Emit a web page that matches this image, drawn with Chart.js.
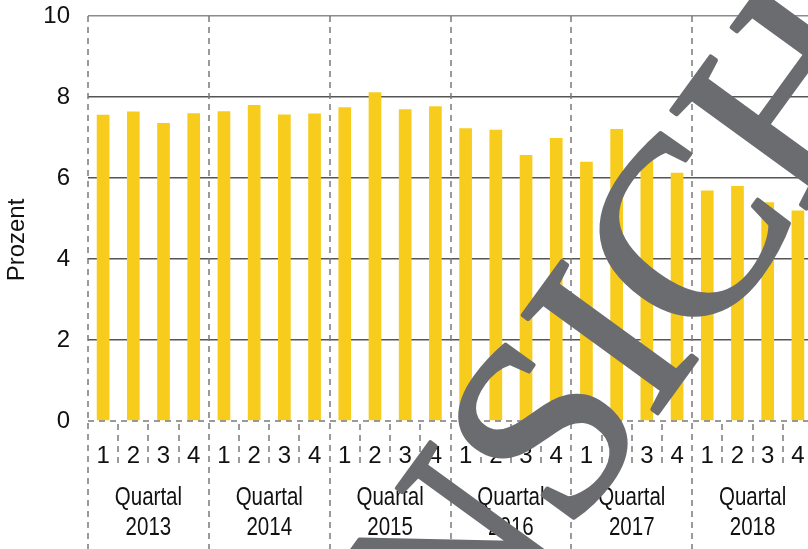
<!DOCTYPE html>
<html>
<head>
<meta charset="utf-8">
<script src="https://cdn.jsdelivr.net/npm/chart.js@4/dist/chart.umd.min.js"></script>
<style>
  html, body { margin: 0; padding: 0; background: #fff; overflow: hidden; width: 808px; height: 549px; }
  canvas { display: block; }
</style>
</head>
<body>
<canvas id="quarterChart" width="830" height="549" style="width:830px;height:549px"></canvas>
<script>
// data
const years = ['2013', '2014', '2015', '2016', '2017', '2018'];
const quarters = ['1', '2', '3', '4'];
const values = [
  7.56, 7.64, 7.36, 7.60,
  7.65, 7.80, 7.57, 7.59,
  7.75, 8.12, 7.70, 7.77,
  7.23, 7.19, 6.57, 6.99,
  6.40, 7.21, 6.67, 6.13,
  5.69, 5.80, 5.40, 5.20
];
const yTicks = [0, 2, 4, 6, 8, 10];
const groupWord = 'Quartal';
const axisTitle = 'Prozent';
const watermark = 'ANSICHT';

const labels = [];
years.forEach(() => quarters.forEach(q => labels.push(q)));

const sans = "'Liberation Sans', Arial, sans-serif";

// condensed text, like the narrow Helvetica of the original
function narrowText(ctx, txt, x, y) {
  ctx.save();
  ctx.translate(x, y);
  ctx.scale(0.82, 1);
  ctx.fillText(txt, 0, 0);
  ctx.restore();
}

const decor = {
  id: 'decor',
  afterDatasetsDraw(chart) {
    const { ctx, chartArea, scales: { x } } = chart;
    const slot = x.getPixelForValue(1) - x.getPixelForValue(0);
    ctx.save();
    ctx.strokeStyle = '#7a7a7a';
    ctx.lineWidth = 1.5;
    ctx.setLineDash([6, 5]);
    // dashed zero line
    ctx.beginPath();
    ctx.moveTo(chartArea.left, chartArea.bottom);
    ctx.lineTo(chartArea.right, chartArea.bottom);
    ctx.stroke();
    // year separators and quarter dividers
    for (let i = 0; i <= labels.length; i++) {
      const bx = Math.round(x.getPixelForValue(i) - slot / 2);
      ctx.beginPath();
      if (i % quarters.length === 0) {
        ctx.moveTo(bx, chartArea.top);
        ctx.lineTo(bx, chart.height);
      } else {
        ctx.moveTo(bx, chartArea.bottom + 3);
        ctx.lineTo(bx, chartArea.bottom + 47);
      }
      ctx.stroke();
    }
    ctx.restore();
  },
  afterDraw(chart) {
    const { ctx, chartArea, scales: { x } } = chart;
    ctx.save();
    ctx.fillStyle = '#111';
    ctx.textAlign = 'center';
    ctx.textBaseline = 'middle';
    ctx.font = '25px ' + sans;
    years.forEach((yr, k) => {
      const a = x.getPixelForValue(k * 4);
      const b = x.getPixelForValue(k * 4 + 3);
      const cx = (a + b) / 2;
      narrowText(ctx, groupWord, cx, chartArea.bottom + 77);
      narrowText(ctx, yr, cx, chartArea.bottom + 107);
    });
    // y axis title
    ctx.save();
    ctx.translate(17, 240);
    ctx.rotate(-Math.PI / 2);
    ctx.font = '24px ' + sans;
    ctx.fillText(axisTitle, 0, 0);
    ctx.restore();
    // watermark
    ctx.translate(609, 337);
    ctx.rotate(-54 * Math.PI / 180);
    ctx.fillStyle = '#6b6c70';
    ctx.strokeStyle = '#6b6c70';
    ctx.lineWidth = 4;
    ctx.lineJoin = 'round';
    ctx.textBaseline = 'alphabetic';
    ctx.font = "255px 'Liberation Serif', 'Times New Roman', serif";
    ctx.fillText(watermark, 0, 0.33 * 255);
    ctx.strokeText(watermark, 0, 0.33 * 255);
    ctx.restore();
  }
};

new Chart(document.getElementById('quarterChart'), {
  type: 'bar',
  data: {
    labels: labels,
    datasets: [{
      data: values,
      backgroundColor: '#f8cc1c',
      barPercentage: 0.42,
      categoryPercentage: 1
    }]
  },
  options: {
    responsive: false,
    animation: false,
    devicePixelRatio: 1,
    layout: { padding: { top: 16, right: 17, bottom: 0, left: 0 } },
    plugins: { legend: { display: false }, tooltip: { enabled: false } },
    scales: {
      x: {
        grid: { display: false, drawTicks: false },
        border: { display: false },
        ticks: {
          color: '#111',
          font: { family: sans, size: 24 },
          padding: 21,
          maxRotation: 0,
          autoSkip: false
        },
        afterFit(scale) { scale.height = 128; }
      },
      y: {
        min: 0,
        max: 10,
        afterBuildTicks(scale) { scale.ticks = yTicks.map(v => ({ value: v })); },
        grid: {
          drawTicks: false,
          lineWidth: 1.5,
          color: c => c.tick && c.tick.value === 0 ? 'rgba(0,0,0,0)' : (c.tick && c.tick.value === 10 ? '#8c8c8c' : '#555')
        },
        border: { display: false },
        ticks: {
          color: '#111',
          font: { family: sans, size: 24 },
          padding: 18
        },
        afterFit(scale) {
          scale.width = 88;
          scale.paddingTop = 0;
          scale.paddingBottom = 0;
        }
      }
    }
  },
  plugins: [decor]
});
</script>
</body>
</html>
